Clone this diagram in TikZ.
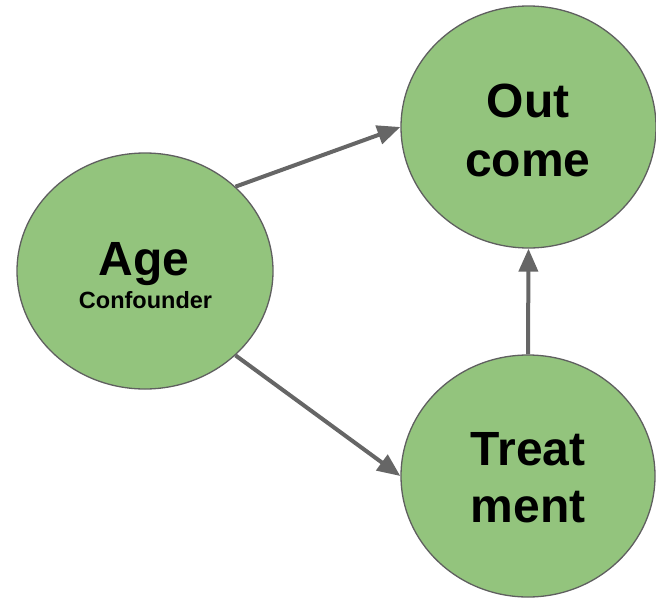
\documentclass[tikz,border=0pt]{standalone}
\usepackage{fontspec}
\setmainfont{Liberation Sans}
\usetikzlibrary{shapes.geometric,arrows.meta}
\definecolor{nodegreen}{HTML}{93C47D}
\definecolor{edgegray}{HTML}{666666}
\definecolor{rimgray}{HTML}{5F5F5F}
\begin{document}
\begin{tikzpicture}[x=1pt,y=-1pt,
  bubble/.style={ellipse,draw=rimgray,line width=1.3pt,fill=nodegreen,inner sep=0pt},
  bigtext/.style={font=\fontsize{48}{56}\selectfont\bfseries,anchor=base,inner sep=0pt},
  smalltext/.style={font=\fontsize{23.5}{27}\selectfont\bfseries,anchor=base,inner sep=0pt},
  link/.style={draw=edgegray,line width=4pt,-{Triangle[length=23pt,width=19pt]}}]
\useasboundingbox (0,0) rectangle (656,600);
\node[bubble,minimum width=256pt,minimum height=236pt] (age) at (145,271) {};
\node[bubble,minimum width=255pt,minimum height=242pt] (out) at (528.5,127) {};
\node[bubble,minimum width=254pt,minimum height=242pt] (treat) at (528,476) {};
\node[bigtext] (agel) at (144,275) {Age};
\node[smalltext] (conf) at (145.5,308) {Confounder};
\node[bigtext] (outa) at (528,117) {Out};
\node[bigtext] (outb) at (528,176) {come};
\node[bigtext] (treata) at (528,465) {Treat};
\node[bigtext] (treatb) at (528,522) {ment};
\draw[link] (age.43) -- (out.west);
\draw[link] (age.-43) -- (treat.west);
\draw[link] (treat.north) -- (out.south);
\end{tikzpicture}
\end{document}
